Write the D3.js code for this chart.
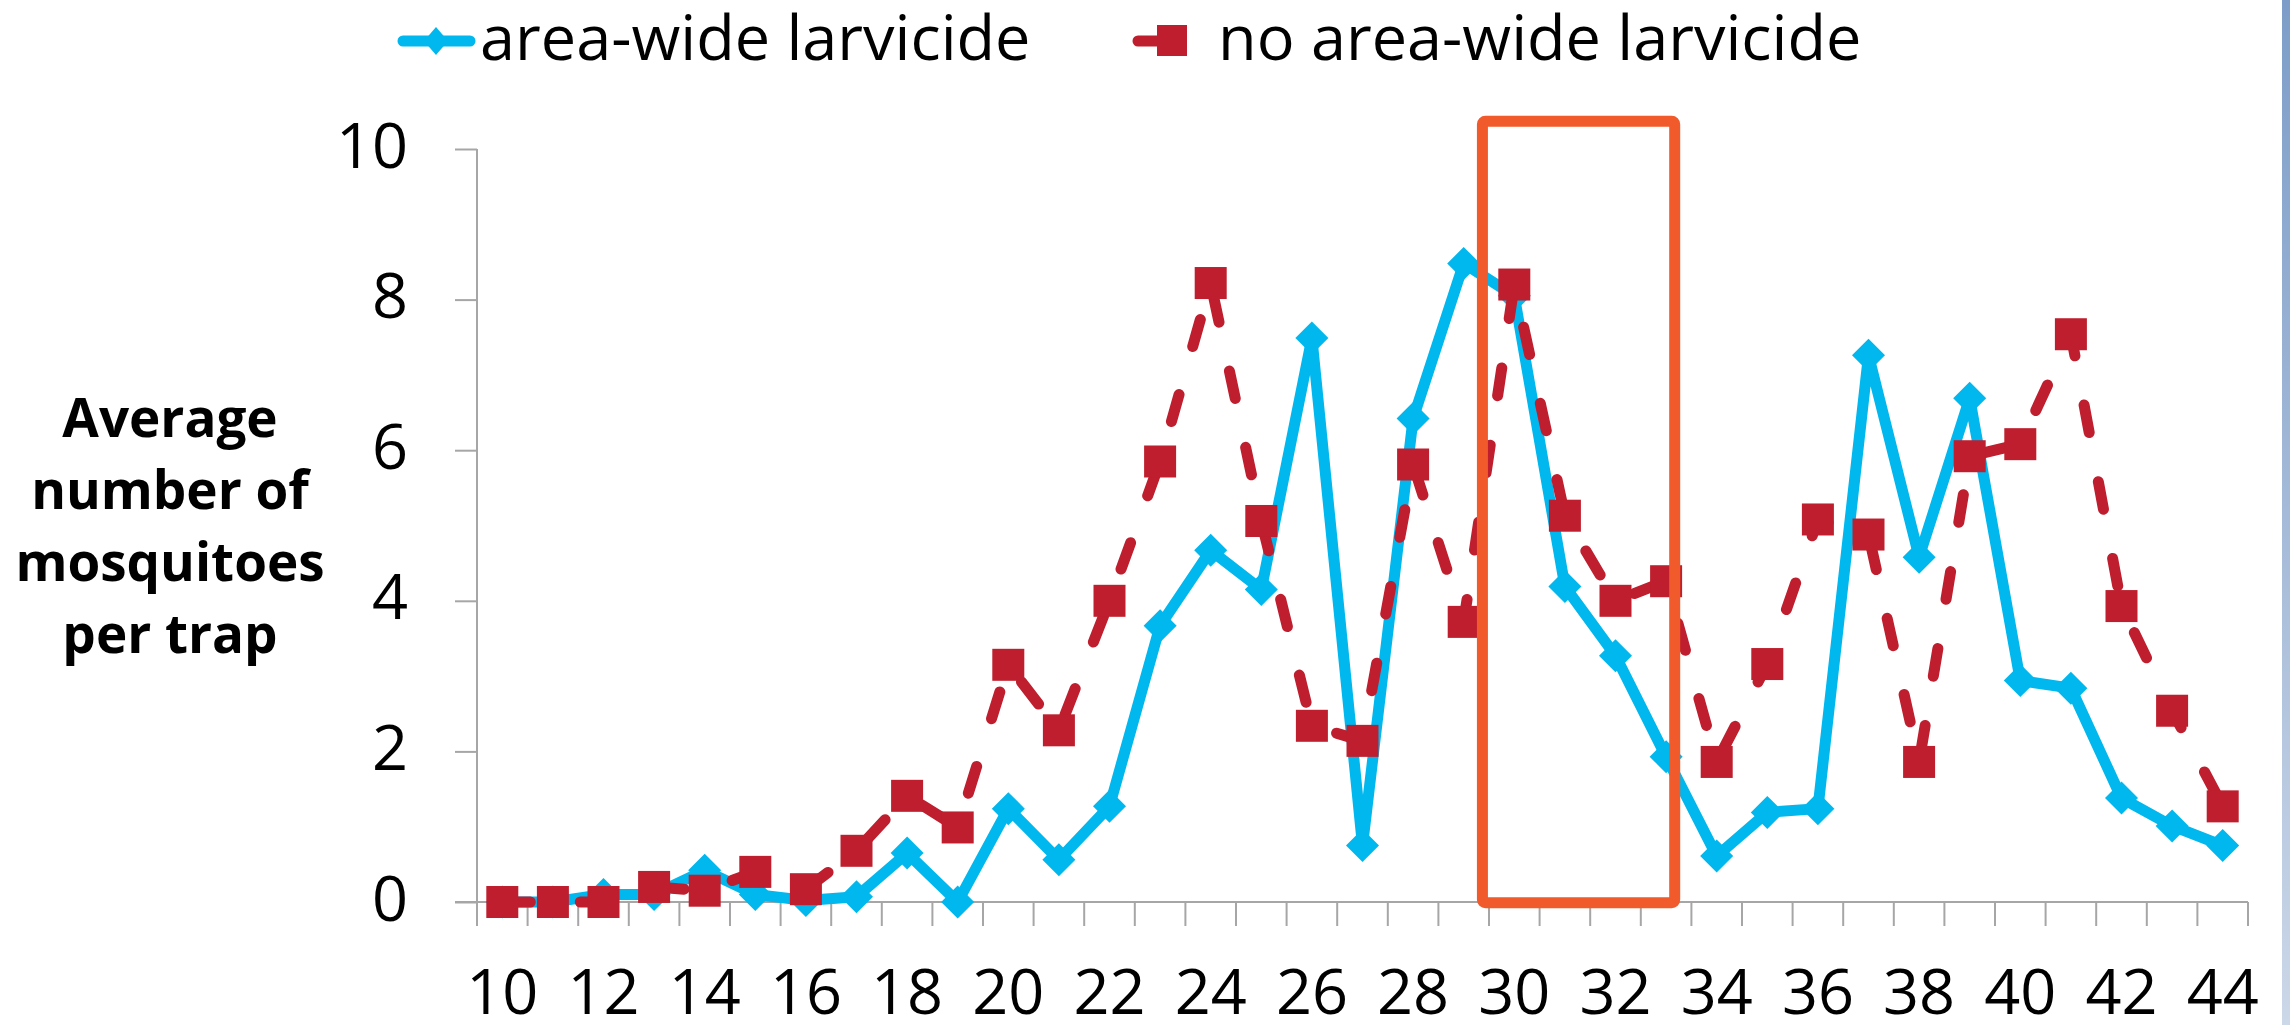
<!DOCTYPE html>
<html><head><meta charset="utf-8">
<script src="https://cdn.jsdelivr.net/npm/d3@7/dist/d3.min.js"></script>
<style>
html,body{margin:0;padding:0;background:#fff;overflow:hidden;}
svg{display:block;font-family:"Open Sans",sans-serif;}
</style></head>
<body>
<svg id="chart" width="2290" height="1025"></svg>
<script>
// ---- data ----
const weeks = [10,11,12,13,14,15,16,17,18,19,20,21,22,23,24,25,26,27,28,29,30,31,32,33,34,35,36,37,38,39,40,41,42,43,44];
const areaWide = [0,0,0.1,0.1,0.42,0.1,0.02,0.07,0.65,0,1.24,0.56,1.27,3.67,4.67,4.15,7.49,0.75,6.42,8.48,8.05,4.19,3.27,1.93,0.61,1.19,1.24,7.26,4.58,6.69,2.94,2.84,1.38,1.01,0.75];
const noAreaWide = [0,0,0,0.2,0.15,0.4,0.17,0.68,1.41,0.99,3.15,2.28,4.0,5.85,8.22,5.06,2.34,2.14,5.81,3.72,8.2,5.13,4.0,4.26,1.86,3.16,5.08,4.88,1.86,5.92,6.08,7.54,3.93,2.54,1.27];
const xTickLabels = [10,12,14,16,18,20,22,24,26,28,30,32,34,36,38,40,42,44];
const yTicks = [0,2,4,6,8,10];
const seriesNames = ["area-wide larvicide","no area-wide larvicide"];
const yTitleLines = ["Average","number of","mosquitoes","per trap"];
const highlightWeeks = [29.37, 33.17];
const highlightValues = [-0.01, 10.37];

// ---- layout ----
const blue = "#00B7EE", red = "#BE1E2D", axisCol = "#A6A6A6", orange = "#F15A2B";
const svg = d3.select("#chart");

// right slide border strip
const defs = svg.append("defs");
const grad = defs.append("linearGradient").attr("id","strip").attr("x1",0).attr("y1",0).attr("x2",0).attr("y2",1);
grad.append("stop").attr("offset","0%").attr("stop-color","#7D9DC8");
grad.append("stop").attr("offset","100%").attr("stop-color","#CCD7E8");
svg.append("rect").attr("x",2282).attr("y",0).attr("width",8).attr("height",1025).attr("fill","url(#strip)");

const x = d3.scaleBand().domain(weeks).range([477,2248]).padding(0);
const bw = x.bandwidth();
const cx = w => x(w) + bw/2;
const y = d3.scaleLinear().domain([0,10]).range([902,149]);
const xl = d3.scaleLinear().domain([weeks[0], weeks[weeks.length-1]]).range([cx(weeks[0]), cx(weeks[weeks.length-1])]);

// y axis
const yAxis = d3.axisLeft(y).tickValues(yTicks).tickSize(22).tickFormat(d3.format("d"));
const gy = svg.append("g").attr("transform","translate(477,0)").call(yAxis);
gy.select(".domain").attr("stroke",axisCol).attr("stroke-width",2).attr("d","M0,149V902");
gy.selectAll(".tick line").attr("stroke",axisCol).attr("stroke-width",2);
gy.selectAll(".tick text").attr("font-size",63).attr("font-family","Open Sans").attr("fill","#000")
  .attr("x",-69).attr("dy",null).attr("y",18);

// x axis (ticks between categories)
const gx = svg.append("g");
gx.append("line").attr("x1",455).attr("x2",2248).attr("y1",902).attr("y2",902).attr("stroke",axisCol).attr("stroke-width",2);
const boundaries = weeks.map(w => x(w)).concat([x(weeks[weeks.length-1])+bw]);
gx.selectAll("line.tk").data(boundaries).join("line").attr("class","tk")
  .attr("x1",d=>d).attr("x2",d=>d).attr("y1",902).attr("y2",926).attr("stroke",axisCol).attr("stroke-width",2);
gx.selectAll("text").data(xTickLabels).join("text")
  .attr("x",d=>cx(d)).attr("y",1014).attr("text-anchor","middle").attr("font-size",63).attr("fill","#000").text(d=>d);

// y title
const yt = svg.append("text").attr("font-size",53).attr("font-weight",700).attr("text-anchor","middle").attr("fill","#000");
yTitleLines.forEach((t,i)=> yt.append("tspan").attr("x",170).attr("y",437+i*72).text(t));

// lines
const line = d3.line().x((d,i)=>cx(weeks[i])).y(d=>y(d)).curve(d3.curveLinear);
svg.append("path").attr("d",line(areaWide)).attr("fill","none").attr("stroke",blue).attr("stroke-width",11).attr("stroke-linejoin","round");
const diamond = r => `M0,${-r}L${r},0L0,${r}L${-r},0Z`;
svg.append("g").selectAll("path").data(areaWide).join("path")
  .attr("transform",(d,i)=>`translate(${cx(weeks[i])},${y(d)})`).attr("d",diamond(16.5)).attr("fill",blue);

svg.append("path").attr("d",line(noAreaWide)).attr("fill","none").attr("stroke",red).attr("stroke-width",11)
  .attr("stroke-dasharray","28,50").attr("stroke-linecap","round").attr("stroke-linejoin","round");
svg.append("g").selectAll("rect").data(noAreaWide).join("rect")
  .attr("x",(d,i)=>cx(weeks[i])-16).attr("y",d=>y(d)-16).attr("width",32).attr("height",32).attr("fill",red);

// highlight box
svg.append("rect")
  .attr("x",xl(highlightWeeks[0])).attr("y",y(highlightValues[1]))
  .attr("width",xl(highlightWeeks[1])-xl(highlightWeeks[0])).attr("height",y(highlightValues[0])-y(highlightValues[1]))
  .attr("fill","none").attr("stroke",orange).attr("stroke-width",11).attr("rx",3);

// legend
const lg = svg.append("g");
lg.append("line").attr("x1",403).attr("x2",470).attr("y1",41).attr("y2",41).attr("stroke",blue).attr("stroke-width",11).attr("stroke-linecap","round");
lg.append("path").attr("transform","translate(436,41)").attr("d","M0,-14L12,0L0,14L-12,0Z").attr("fill",blue);
lg.append("text").attr("x",480).attr("y",60).attr("font-size",63).attr("fill","#000").text(seriesNames[0]);
lg.append("line").attr("x1",1138).attr("x2",1170).attr("y1",41).attr("y2",41).attr("stroke",red).attr("stroke-width",11).attr("stroke-linecap","round");
lg.append("rect").attr("x",1157).attr("y",25).attr("width",30).attr("height",31).attr("fill",red);
lg.append("text").attr("x",1218).attr("y",60).attr("font-size",63).attr("fill","#000").text(seriesNames[1]);
</script>
</body></html>
